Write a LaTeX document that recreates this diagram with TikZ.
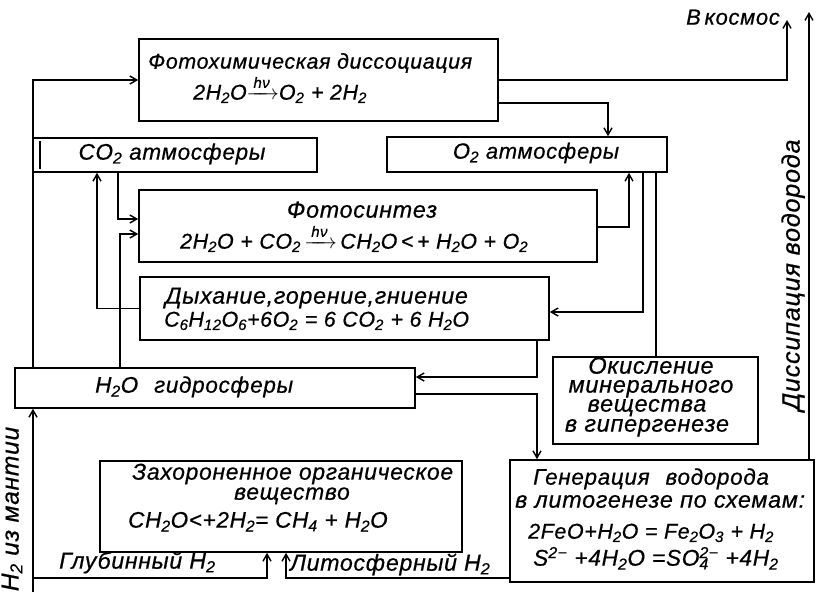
\documentclass[tikz,border=0pt]{standalone}
\usepackage{amsmath}
\usepackage{fontspec}
\setmainfont{Liberation Sans}[LetterSpace=3, ItalicFeatures={FakeBold=0.6}]
\usetikzlibrary{arrows.meta}
\newcommand{\ssb}[1]{\textsubscript{#1}}
\newcommand{\ssp}[1]{\textsuperscript{#1}}
\newcommand{\hvarr}{$\xrightarrow{\,\text{hν}\,}$}
\begin{document}
\begin{tikzpicture}[x=1pt,y=-1pt,
  box/.style={draw, line width=1.6pt, inner sep=0pt},
  lab/.style={font=\itshape\fontsize{21.4}{24}\selectfont, inner sep=0pt},
  sz/.style={font=\itshape\fontsize{#1}{24}\selectfont},
  conn/.style={line width=1.4pt},
  arr/.style={conn, -{Straight Barb[length=7pt,width=8pt]}}]
\useasboundingbox (0,0) rectangle (819,592);
% boxes
\node[box, minimum width=359pt, minimum height=82pt] (photo) at (318.5,80) {};
\node[box, minimum width=284pt, minimum height=34pt] (co2) at (175,155) {};
\node[box, minimum width=280pt, minimum height=35pt] (o2) at (527,154.5) {};
\node[box, minimum width=458pt, minimum height=72pt] (fs) at (368,226) {};
\node[box, minimum width=409pt, minimum height=63pt] (dy) at (344.5,308.5) {};
\node[box, minimum width=400pt, minimum height=40pt] (h2o) at (215,388) {};
\node[box, minimum width=205pt, minimum height=87pt] (ok) at (655.5,400.5) {};
\node[box, minimum width=362pt, minimum height=91pt] (bur) at (281,506.5) {};
\node[box, minimum width=304pt, minimum height=122pt] (gen) at (662,521) {};
\draw[conn] (40,141) -- (40,169);
% texts
\node[lab, anchor=mid west] (t1) at (148,66) {Фотохимическая диссоциация};
\node[lab, anchor=mid west] (t2) at (193,97) {2H\ssb{2}O\hvarr O\ssb{2} + 2H\ssb{2}};
\node[lab, sz=22.5, anchor=mid] (tco2) at (172,157) {CO\ssb{2} атмосферы};
\node[lab, sz=22, anchor=mid] (to2) at (536,156) {O\ssb{2} атмосферы};
\node[lab, sz=23.3, anchor=mid] (tfs1) at (362,215) {Фотосинтез};
\node[lab, anchor=mid west] (tfs2) at (180,246) {2H\ssb{2}O + CO\ssb{2}\,\hvarr\,CH\ssb{2}O\,<\,+ H\ssb{2}O + O\ssb{2}};
\node[lab, sz=23.3, anchor=mid west] (tdy1) at (165,301) {Дыхание,горение,гниение};
\node[lab, anchor=mid west] (tdy2) at (164,324) {C\ssb{6}H\ssb{12}O\ssb{6}+6O\ssb{2} = 6 CO\ssb{2} + 6 H\ssb{2}O};
\node[lab, sz=22.5, anchor=mid west] (th2o) at (95,390) {H\ssb{2}O\hspace{0.4em} гидросферы};
\node[lab, sz=23.5, anchor=mid] (tok1) at (651,371) {Окисление};
\node[lab, sz=23.5, anchor=mid] (tok2) at (651,390) {минерального};
\node[lab, sz=23.5, anchor=mid] (tok3) at (647,409) {вещества};
\node[lab, sz=23.5, anchor=mid] (tok4) at (647,429) {в гипергенезе};
\node[lab, sz=22.9, anchor=mid west] (tbur1) at (132,477) {Захороненное органическое};
\node[lab, sz=22.9, anchor=mid] (tbur2) at (292,497) {вещество};
\node[lab, sz=22.5, anchor=mid west] (tbur3) at (128,525) {CH\ssb{2}O<+2H\ssb{2}= CH\ssb{4} + H\ssb{2}O};
\node[lab, sz=22.5, anchor=mid west] (tgen1) at (533,482) {Генерация\hspace{0.4em} водорода};
\node[lab, sz=23.4, anchor=mid west] (tgen2) at (515,505) {в литогенезе по схемам:};
\node[lab, anchor=mid west] (tgen3) at (528,536) {2FeO+H\ssb{2}O = Fe\ssb{2}O\ssb{3} + H\ssb{2}};
\node[lab, sz=22.7, anchor=mid west] (tgen4) at (533,563) {S\ssp{2−} +4H\ssb{2}O =SO\rlap{\ssb{4}}\ssp{2−} +4H\ssb{2}};
\node[lab, sz=23.1, anchor=mid west] (tdeep) at (59,566) {Глубинный H\ssb{2}};
\node[lab, sz=23.1, anchor=mid west] (tlit) at (290,568) {Литосферный H\ssb{2}};
\node[lab, sz=22, anchor=mid east] (tspace) at (780,22) {В\,космос};
\node[lab, sz=25.2, anchor=mid, rotate=90] (tdis) at (797,275) {Диссипация водорода};
\node[lab, sz=24.6, anchor=mid, rotate=90] (tman) at (16,509) {H\ssb{2} из мантии};
% free ends
\coordinate (space) at (787,20);
\coordinate (top) at (809,12);
\coordinate (mantle) at (33,592);
\coordinate (deep) at (33,578);
% connectors
\draw[arr] (33,0 |- h2o.north) -- (33,0 |- photo.west) -- (photo.west);
\draw[arr] (photo.east) -- (787,0 |- photo.east) -- (space);
\draw[arr] (photo.east |- 0,103) -- (608,103) -- (608,0 |- o2.north);
\draw[arr] (118,0 |- co2.south) -- (118,219) -- (fs.west |- 0,219);
\draw[arr] (120,0 |- h2o.north) -- (120,234) -- (fs.west |- 0,234);
\draw[arr] (dy.west) -- (97,0 |- dy.west) -- (97,0 |- co2.south);
\draw[arr] (fs.east |- 0,227) -- (629,227) -- (629,0 |- o2.south);
\draw[arr] (643,0 |- o2.south) -- (643,312) -- (dy.east |- 0,312);
\draw[conn] (656,0 |- o2.south) -- (656,0 |- ok.north);
\draw[arr] (537,0 |- dy.south) -- (537,377) -- (h2o.east |- 0,377);
\draw[arr] (h2o.east |- 0,394) -- (537,394) -- (537,0 |- gen.north);
\draw[arr] (809,0 |- gen.north) -- (top);
\draw[arr] (mantle) -- (33,0 |- h2o.south);
\draw[arr] (deep) -- (267,578) -- (267,0 |- bur.south);
\draw[arr] (gen.west |- 0,578) -- (286,578) -- (286,0 |- bur.south);
\end{tikzpicture}
\end{document}
